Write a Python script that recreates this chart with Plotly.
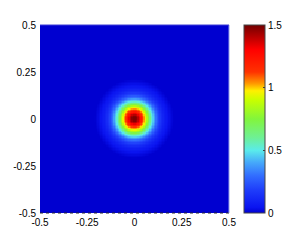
import numpy as np
import plotly.graph_objects as go

# radial profile (distance from centre -> value)
profile_r = [0, 0.013, 0.026, 0.042, 0.055, 0.063, 0.072, 0.079, 0.094, 0.105,
             0.115, 0.13, 0.145, 0.16, 0.18, 0.21, 0.75]
profile_v = [1.5, 1.47, 1.36, 1.15, 1.0, 0.9, 0.78, 0.68, 0.5, 0.4,
             0.3, 0.2, 0.13, 0.08, 0.04, 0.0, 0.0]

x_ticks = [-0.5, -0.25, 0, 0.25, 0.5]
x_ticklabels = ["-0.5", "-0.25", "0", "0.25", "0.5"]
y_ticks = [-0.5, -0.25, 0, 0.25, 0.5]
y_ticklabels = ["-0.5", "-0.25", "0", "0.25", "0.5"]
cb_ticks = [0, 0.5, 1, 1.5]
cb_ticklabels = ["0", "0.5", "1", "1.5"]

n = 128
xs = np.linspace(-0.5, 0.5, n)
ys = np.linspace(-0.5, 0.5, n)
X, Y = np.meshgrid(xs, ys)
R = np.sqrt(X ** 2 + Y ** 2)
Z = np.interp(R, profile_r, profile_v)

colorscale = [
    [0.0, "rgb(0,0,208)"],
    [0.03, "rgb(10,20,240)"],
    [0.12, "rgb(30,60,250)"],
    [0.2, "rgb(50,110,255)"],
    [0.27, "rgb(70,170,250)"],
    [0.333, "rgb(90,235,235)"],
    [0.4, "rgb(110,240,150)"],
    [0.5, "rgb(130,245,60)"],
    [0.6, "rgb(200,255,0)"],
    [0.65, "rgb(255,240,0)"],
    [0.69, "rgb(255,150,0)"],
    [0.75, "rgb(255,50,0)"],
    [0.87, "rgb(255,0,0)"],
    [1.0, "rgb(115,0,0)"],
]

font = dict(family="Liberation Sans, Arial, sans-serif", size=10, color="black")

fig = go.Figure(go.Heatmap(
    x=xs, y=ys, z=Z, zmin=0, zmax=1.5, colorscale=colorscale, zsmooth=False,
    colorbar=dict(
        x=(244 - 40) / 189, xanchor="left", xpad=0,
        y=0, yanchor="bottom", yref="paper", len=1, lenmode="fraction", ypad=0,
        thickness=21, thicknessmode="pixels",
        outlinewidth=1, outlinecolor="rgb(70,70,70)",
        tickvals=cb_ticks, ticktext=cb_ticklabels,
        ticks="inside", ticklen=2, tickcolor="rgb(60,60,60)",
        tickfont=font,
    ),
))

# page body has an 8px default margin, so the figure is offset by it
fig.update_layout(
    width=299, height=237,
    margin=dict(l=32, r=78, t=17, b=32),
    paper_bgcolor="white", plot_bgcolor="white",
    font=font,
    xaxis=dict(range=[-0.5, 0.5], tickvals=x_ticks, ticktext=x_ticklabels,
               showgrid=False, zeroline=False, ticks="", ticklabelstandoff=2,
               showline=False, automargin=False),
    yaxis=dict(range=[-0.5, 0.5], tickvals=y_ticks, ticktext=y_ticklabels,
               showgrid=False, zeroline=False, ticks="", ticklabelstandoff=3,
               showline=False, automargin=False),
    shapes=[
        dict(type="line", xref="paper", yref="paper", x0=0, x1=1, y0=0, y1=0,
             line=dict(color="rgb(40,40,40)", width=1, dash="dot")),
        dict(type="line", xref="paper", yref="paper", x0=1, x1=1, y0=0, y1=1,
             line=dict(color="rgb(150,160,235)", width=1)),
        dict(type="line", xref="paper", yref="paper", x0=0, x1=1, y0=1, y1=1,
             line=dict(color="rgb(60,60,215)", width=1)),
    ],
)

fig.write_html("out.html")
